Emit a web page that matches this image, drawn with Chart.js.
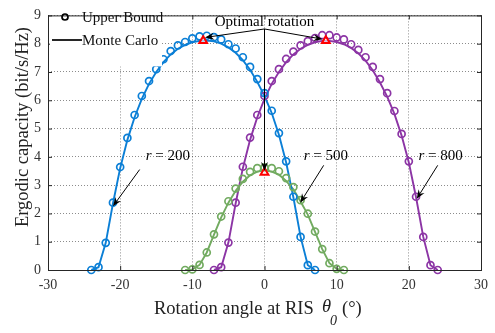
<!DOCTYPE html>
<html>
<head>
<meta charset="utf-8">
<script src="https://cdn.jsdelivr.net/npm/chart.js@4/dist/chart.umd.min.js"></script>
<style>
  html, body { margin: 0; padding: 0; background: #fff; }
</style>
</head>
<body>
<canvas id="chart" width="495" height="333"></canvas>
<script>
// r = 200
let anglesR200 = [-24,-23,-22,-21,-20,-19,-18,-17,-16,-15,-14,-13,-12,-11,-10,-9,-8,-7,-6,-5,-4,-3,-2,-1,0,1,2,3,4,5,6,7];
let boundR200 = [0,0.1,0.96,2.38,3.64,4.67,5.48,6.15,6.68,7.1,7.45,7.74,7.94,8.06,8.19,8.26,8.28,8.23,8.15,7.98,7.83,7.52,7.18,6.75,6.25,5.63,4.84,3.84,2.59,1.17,0.17,0];
let mcR200 = [0,0.1,0.96,2.35,3.6,4.6,5.4,6.05,6.58,7.0,7.35,7.62,7.82,7.96,8.05,8.1,8.11,8.08,8.0,7.87,7.68,7.42,7.08,6.65,6.15,5.55,4.78,3.8,2.57,1.17,0.17,0];

// r = 500
let anglesR500 = [-11,-10,-9,-8,-7,-6,-5,-4,-3,-2,-1,0,1,2,3,4,5,6,7,8,9,10,11];
let boundR500 = [0,0.02,0.18,0.62,1.26,1.89,2.43,2.88,3.22,3.47,3.6,3.63,3.6,3.49,3.25,2.93,2.47,1.99,1.36,0.74,0.24,0.04,0];
let mcR500 = [0,0.02,0.18,0.62,1.25,1.86,2.38,2.8,3.12,3.35,3.48,3.52,3.48,3.37,3.15,2.85,2.42,1.96,1.35,0.74,0.24,0.04,0];

// r = 800
let anglesR800 = [-7,-6,-5,-4,-3,-2,-1,0,1,2,3,4,5,6,7,8,9,10,11,12,13,14,15,16,17,18,19,20,21,22,23,24];
let boundR800 = [0,0.1,0.97,2.38,3.65,4.68,5.48,6.15,6.68,7.1,7.46,7.72,7.94,8.09,8.2,8.3,8.3,8.22,8.15,7.98,7.78,7.52,7.18,6.75,6.25,5.62,4.81,3.84,2.59,1.17,0.17,0];
let mcR800 = [0,0.1,0.97,2.35,3.6,4.6,5.4,6.05,6.58,7.0,7.35,7.62,7.82,7.96,8.05,8.1,8.1,8.06,7.98,7.85,7.66,7.4,7.06,6.63,6.13,5.52,4.75,3.8,2.57,1.17,0.17,0];

// optimal rotation points
let optAngles = [-8.5, 0, 8.5];
let optCapacity = [8.1, 3.45, 8.1];

let xTicks = [-30, -20, -10, 0, 10, 20, 30];
let yTicks = [0, 1, 2, 3, 4, 5, 6, 7, 8, 9];

let serif = "'Liberation Serif', 'Times New Roman', serif";
let blue = "#0b7fd6", green = "#72ab60", purple = "#8c35a5";

function pts(xs, ys) {
  return xs.map((x, i) => ({ x: x, y: ys[i] }));
}

function lineSet(xs, ys, color) {
  return {
    data: pts(xs, ys), borderColor: color, borderWidth: 1.9,
    pointRadius: 0, showLine: true, clip: false, order: 2
  };
}

function markSet(xs, ys, color) {
  return {
    data: pts(xs, ys), borderColor: color, backgroundColor: "rgba(0,0,0,0)",
    borderWidth: 1.7, pointRadius: 3.5, showLine: false, clip: false, order: 1
  };
}

function arrow(ctx, x1, y1, x2, y2) {
  let a = Math.atan2(y2 - y1, x2 - x1);
  ctx.beginPath();
  ctx.moveTo(x1, y1);
  ctx.lineTo(x2 - 6 * Math.cos(a), y2 - 6 * Math.sin(a));
  ctx.stroke();
  ctx.beginPath();
  ctx.moveTo(x2, y2);
  ctx.lineTo(x2 - 9 * Math.cos(a) + 3.5 * Math.sin(a), y2 - 9 * Math.sin(a) - 3.5 * Math.cos(a));
  ctx.lineTo(x2 - 6 * Math.cos(a), y2 - 6 * Math.sin(a));
  ctx.lineTo(x2 - 9 * Math.cos(a) - 3.5 * Math.sin(a), y2 - 9 * Math.sin(a) + 3.5 * Math.cos(a));
  ctx.closePath();
  ctx.fill();
}

// label "r = ..." with italic r, centred on (cx, cy)
function rLabel(ctx, txt, cx, cy) {
  ctx.font = "italic 15px " + serif;
  let w1 = ctx.measureText("r").width;
  ctx.font = "15px " + serif;
  let w2 = ctx.measureText(" = " + txt).width;
  let x0 = cx - (w1 + w2) / 2;
  ctx.textAlign = "left";
  ctx.textBaseline = "middle";
  ctx.font = "italic 15px " + serif;
  ctx.fillText("r", x0, cy);
  ctx.font = "15px " + serif;
  ctx.fillText(" = " + txt, x0 + w1, cy);
}

let decor = {
  id: "decor",
  afterDatasetsDraw(chart) {
    let ctx = chart.ctx;
    let xs = chart.scales.x, ys = chart.scales.y;
    let area = chart.chartArea;
    let px = v => xs.getPixelForValue(v);
    let py = v => ys.getPixelForValue(v);

    ctx.save();
    // box
    ctx.strokeStyle = "#262626";
    ctx.lineWidth = 1;
    ctx.strokeRect(area.left + 0.5, area.top + 0.5, area.right - area.left, area.bottom - area.top);
    // inner ticks
    ctx.beginPath();
    xTicks.forEach(t => {
      ctx.moveTo(px(t) + 0.5, area.bottom); ctx.lineTo(px(t) + 0.5, area.bottom - 4);
      ctx.moveTo(px(t) + 0.5, area.top); ctx.lineTo(px(t) + 0.5, area.top + 4);
    });
    yTicks.forEach(t => {
      ctx.moveTo(area.left, py(t) + 0.5); ctx.lineTo(area.left + 4, py(t) + 0.5);
      ctx.moveTo(area.right, py(t) + 0.5); ctx.lineTo(area.right - 4, py(t) + 0.5);
    });
    ctx.stroke();

    // legend, white box inside the axes
    ctx.fillStyle = "#fff";
    ctx.fillRect(area.left + 2, area.top + 2, 112, 49);
    ctx.strokeStyle = "#000";
    ctx.lineWidth = 1.7;
    ctx.beginPath();
    ctx.arc(65, 17, 3, 0, Math.PI * 2);
    ctx.stroke();
    ctx.beginPath();
    ctx.moveTo(52, 40); ctx.lineTo(82, 40);
    ctx.stroke();
    ctx.fillStyle = "#111";
    ctx.font = "15px " + serif;
    ctx.textAlign = "left";
    ctx.textBaseline = "middle";
    ctx.fillText("Upper Bound", 82, 18);
    ctx.fillText("Monte Carlo", 82, 41);

    // optimal rotation annotation
    ctx.strokeStyle = "#000";
    ctx.fillStyle = "#000";
    ctx.lineWidth = 1;
    ctx.textAlign = "center";
    ctx.font = "15px " + serif;
    ctx.fillText("Optimal rotation", px(0), py(8.76));
    let bx = px(0), by = py(8.52);
    arrow(ctx, bx, by, px(-8.25), py(8.22));
    arrow(ctx, bx, by, px(8.05), py(8.16));
    arrow(ctx, bx, by, px(0), py(3.5));

    // r labels
    rLabel(ctx, "200", px(-13.4), py(4.03));
    rLabel(ctx, "500", px(8.5), py(4.03));
    rLabel(ctx, "800", px(24.4), py(4.03));
    arrow(ctx, px(-17.3), py(3.55), px(-21.0), py(2.25));
    arrow(ctx, px(8.2), py(3.7), px(4.95), py(2.38));
    arrow(ctx, px(24.0), py(3.7), px(21.1), py(2.52));

    // axis titles
    ctx.fillStyle = "#222";
    ctx.textAlign = "left";
    ctx.font = "18.5px " + serif;
    ctx.fillText("Rotation angle at RIS", 154, 309);
    ctx.font = "italic 18.5px " + serif;
    ctx.fillText("\u03B8", 322, 307);
    ctx.font = "italic 14px " + serif;
    ctx.fillText("0", 330, 321);
    ctx.font = "18.5px " + serif;
    ctx.fillText("(\u00B0)", 342, 309);

    ctx.translate(23, 127);
    ctx.rotate(-Math.PI / 2);
    ctx.textAlign = "center";
    ctx.fillText("Ergodic capacity (bit/s/Hz)", 0, 0);
    ctx.restore();
  }
};

let ctx = document.getElementById("chart").getContext("2d");

let chart = new Chart(ctx, {
  type: "scatter",
  data: {
    datasets: [
      lineSet(anglesR200, mcR200, blue),
      lineSet(anglesR500, mcR500, green),
      lineSet(anglesR800, mcR800, purple),
      markSet(anglesR200, boundR200, blue),
      markSet(anglesR500, boundR500, green),
      markSet(anglesR800, boundR800, purple),
      {
        data: pts(optAngles, optCapacity), borderColor: "#ff0000",
        backgroundColor: "rgba(255,255,255,0.6)", borderWidth: 2,
        pointStyle: "triangle", pointRadius: 4.5, showLine: false, clip: false, order: 0
      }
    ]
  },
  options: {
    responsive: false,
    animation: false,
    layout: { padding: { top: 2, right: 12, left: 0, bottom: 0 } },
    plugins: { legend: { display: false }, tooltip: { enabled: false } },
    scales: {
      x: {
        type: "linear", min: -30, max: 30,
        afterFit: s => { s.height = 63; },
        afterBuildTicks: s => { s.ticks = xTicks.map(v => ({ value: v })); },
        ticks: { color: "#333", padding: 7, font: { family: serif, size: 14 } },
        grid: { color: "rgba(0,0,0,0.45)", lineWidth: 1, drawTicks: false },
        border: { display: false, dash: [1, 2] }
      },
      y: {
        min: 0, max: 9,
        afterFit: s => { s.width = 48; },
        afterBuildTicks: s => { s.ticks = yTicks.map(v => ({ value: v })); },
        ticks: { color: "#333", padding: 7, font: { family: serif, size: 14 } },
        grid: { color: "rgba(0,0,0,0.45)", lineWidth: 1, drawTicks: false },
        border: { display: false, dash: [1, 2] }
      }
    }
  },
  plugins: [decor]
});
</script>
</body>
</html>
